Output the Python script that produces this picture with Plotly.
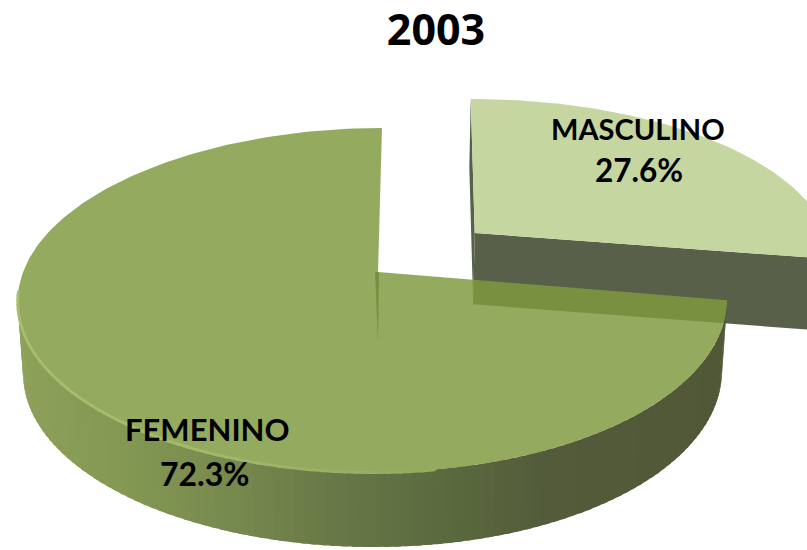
import math
import plotly.graph_objects as go

# --- data ---
categories = ["MASCULINO", "FEMENINO"]
values = [27.6, 72.3]
labels = ["27.6%", "72.3%"]
title_text = "2003"

# --- view of the tilted pie (camera model, not data) ---
CX, APEX_Y, WIDE = 378.0, 272.0, 350.0
TILT_B, PERSP_C = 123.2, 0.1628
EXPLODE = 0.374
DEPTH = 72.0


def top(u, v):
    den = 1 + PERSP_C * v
    return (CX + 4 * v + WIDE * u * (1 - 0.014 * u) / den,
            (APEX_Y - TILT_B * v) / den)


def bottom(u, v):
    x, y = top(u, v)
    return (CX + (x - CX) * 0.985, y + DEPTH - 3 * v)


def on_circle(deg, du=0.0, dv=0.0):
    a = math.radians(deg)
    return math.sin(a) + du, math.cos(a) + dv


def lerp_colour(stops, x):
    if x <= stops[0][0]:
        return stops[0][1]
    for (x0, c0), (x1, c1) in zip(stops, stops[1:]):
        if x <= x1:
            t = (x - x0) / (x1 - x0)
            return tuple(c0[i] + (c1[i] - c0[i]) * t for i in range(3))
    return stops[-1][1]


def rgb(c):
    return "rgb(%d,%d,%d)" % tuple(round(v) for v in c)


fig = go.Figure()


def poly(points, colour, line=None):
    fig.add_trace(go.Scatter(
        x=[p[0] for p in points], y=[p[1] for p in points],
        mode="lines", fill="toself", fillcolor=colour,
        line=dict(width=0.6 if line else 0, color=line or "rgba(0,0,0,0)"),
        hoverinfo="skip", showlegend=False))


total = sum(values)
boundary = 360.0 * values[0] / total
mid = math.radians(boundary / 2)
du, dv = EXPLODE * math.sin(mid), EXPLODE * math.cos(mid)


def exploded(fn, u, v):
    # the pulled-out slice sits a little wider in the view
    x, y = fn(u, v)
    return (x + 5.6 * (v - dv) + 0.07 * (x - 474), y)


# Masculino: cut faces then top face
a_t = exploded(top, du, dv)
a_b = exploded(bottom, du, dv)
e_u, e_v = on_circle(boundary, du, dv)
s_u, s_v = on_circle(0, du, dv)
wall_col = "rgb(89,96,73)"
poly([exploded(top, s_u, s_v), a_t, a_b, exploded(bottom, s_u, s_v)], wall_col)
poly([a_t, exploded(top, e_u, e_v), exploded(bottom, e_u, e_v), a_b], wall_col)
steps = 80
masc_top = [a_t] + [exploded(top, *on_circle(boundary * i / steps, du, dv)) for i in range(steps + 1)]
poly(masc_top, "rgb(198,214,160)")

# Femenino: curved wall in strips
stops = [(18, (142, 160, 90)), (130, (131, 151, 83)), (250, (116, 134, 76)),
         (350, (101, 117, 70)), (450, (90, 105, 62)), (550, (83, 91, 58)),
         (730, (80, 88, 55))]
wall_end = 262.0
n = 110
for i in range(n):
    a0 = boundary + (wall_end - boundary) * i / n
    a1 = boundary + (wall_end - boundary) * (i + 1.6) / n
    a1 = min(a1, wall_end)
    p0, p1 = on_circle(a0), on_circle(a1)
    xm = top(*on_circle((a0 + a1) / 2))[0]
    poly([top(*p0), top(*p1), bottom(*p1), bottom(*p0)], rgb(lerp_colour(stops, xm)))

# Femenino: streak of the cut face seen through the top
ax, ay = top(0, 0)
bx, by = bottom(0, 0)
poly([(ax - 3, ay), (ax + 1, ay), (bx, by)], wall_col)

# Femenino top face, slightly see-through
fem_top = [top(0, 0)] + [top(*on_circle(boundary + (360 - boundary) * i / 200)) for i in range(201)]
poly(fem_top, "rgba(128,154,63,0.84)")

# Light rim on the front-left edge, fading toward the right
rim_n = 60
for i in range(rim_n):
    a0 = 264 - (264 - 172) * i / rim_n
    a1 = 264 - (264 - 172) * (i + 1.3) / rim_n
    pts = [top(*on_circle(a0 + (a1 - a0) * k / 3)) for k in range(4)]
    f = i / rim_n
    col = lerp_colour([(0, (170, 190, 114)), (0.6, (166, 186, 110)), (1, (148, 170, 93))], f)
    fig.add_trace(go.Scatter(x=[p[0] for p in pts], y=[p[1] + 0.5 for p in pts], mode="lines",
                             line=dict(width=2.8, color=rgb(col)), hoverinfo="skip", showlegend=False))


def label(x, y, text, size):
    fig.add_annotation(x=x, y=y, xref="x", yref="y", showarrow=False, text=text,
                       font=dict(family="Lato, Noto Sans, sans-serif", size=size, color="black", weight="bold"))


label(638, 128, categories[0], 29)
label(639, 170, labels[0], 31.5)
label(207, 429, categories[1], 31)
label(205, 473, labels[1], 32)

fig.update_layout(
    width=807, height=550, margin=dict(l=0, r=0, t=0, b=0),
    paper_bgcolor="white", plot_bgcolor="white", showlegend=False,
    title=dict(text=f"<b>{title_text}</b>", x=436 / 807, y=1 - 30 / 550, xanchor="center", yanchor="middle",
               font=dict(family="Noto Sans, sans-serif", size=43, color="black")),
    xaxis=dict(range=[0, 807], visible=False, fixedrange=True),
    yaxis=dict(range=[550, 0], visible=False, fixedrange=True),
)
fig.write_html("out.html", config=dict(displayModeBar=False),
               post_script="document.body.style.margin='0';document.documentElement.style.overflow='hidden';")
